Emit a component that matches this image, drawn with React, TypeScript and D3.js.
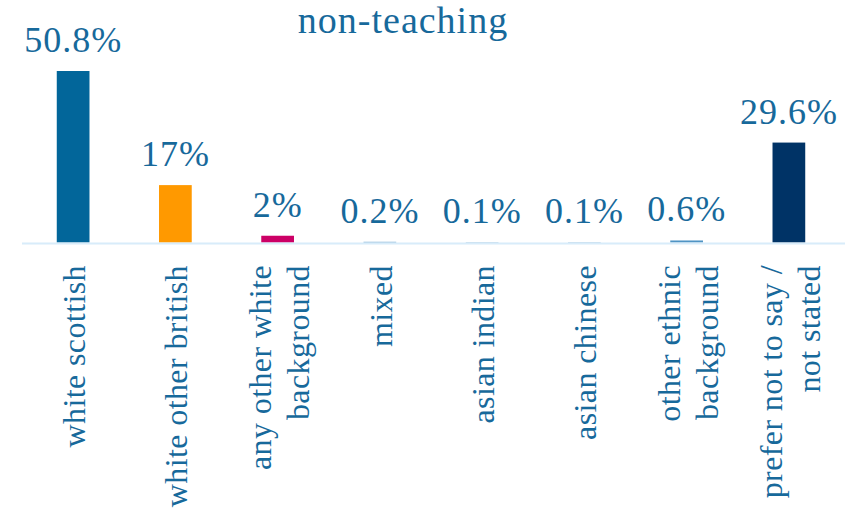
import React from "react";
import * as d3 from "d3";

const title = "non-teaching";
const categories = [
  ["white scottish"],
  ["white other british"],
  ["any other white", "background"],
  ["mixed"],
  ["asian indian"],
  ["asian chinese"],
  ["other ethnic", "background"],
  ["prefer not to say /", "not stated"],
];
const values = [50.8, 17, 2, 0.2, 0.1, 0.1, 0.6, 29.6];
const valueLabels = ["50.8%", "17%", "2%", "0.2%", "0.1%", "0.1%", "0.6%", "29.6%"];
const colors = ["#02669a", "#ff9900", "#cc0066", "#4f94c4", "#4f94c4", "#4f94c4", "#4f94c4", "#003366"];

const W = 866;
const H = 508;
const textColor = "#17699b";
const font = "Liberation Serif";

export default function App() {
  const ids = categories.map((_, i) => String(i));
  const x = d3.scaleBand<string>().domain(ids).range([22, 840]).paddingInner(0.68).paddingOuter(0.34);
  const y = d3.scaleLinear().domain([0, 50.8]).range([242.5, 71]);
  const bw = x.bandwidth();
  return (
    <svg width={W} height={H} style={{ position: "absolute", left: 0, top: 0 }}>
      <rect width={W} height={H} fill="#ffffff" />
      <text x={403} y={33} textAnchor="middle" fontFamily={font} fontSize={38} letterSpacing={1} fill={textColor}>
        {title}
      </text>
      {values.map((v, i) => {
        const x0 = x(ids[i])!;
        return (
          <g key={i}>
            <rect x={x0} y={y(v)} width={bw} height={y(0) - y(v)} fill={colors[i]} />
            <text
              x={x0 + bw / 2}
              y={y(v) - 19}
              textAnchor="middle"
              fontFamily={font}
              fontSize={36}
              letterSpacing={1}
              fill={textColor}
            >
              {valueLabels[i]}
            </text>
          </g>
        );
      })}
      <line x1={22} x2={845} y1={243.5} y2={243.5} stroke="#d8ecfa" strokeWidth={2} />
      {categories.map((lines, i) => {
        const cx = x(ids[i])! + bw / 2;
        const n = lines.length;
        return (
          <g key={i}>
            {lines.map((ln, j) => {
              const bx = cx + (j - (n - 1) / 2) * 38 + 12;
              return (
                <text
                  key={j}
                  transform={`translate(${bx},265) rotate(-90)`}
                  textAnchor="end"
                  fontFamily={font}
                  fontSize={32}
                  letterSpacing={0.4}
                  fill={textColor}
                >
                  {ln}
                </text>
              );
            })}
          </g>
        );
      })}
    </svg>
  );
}
